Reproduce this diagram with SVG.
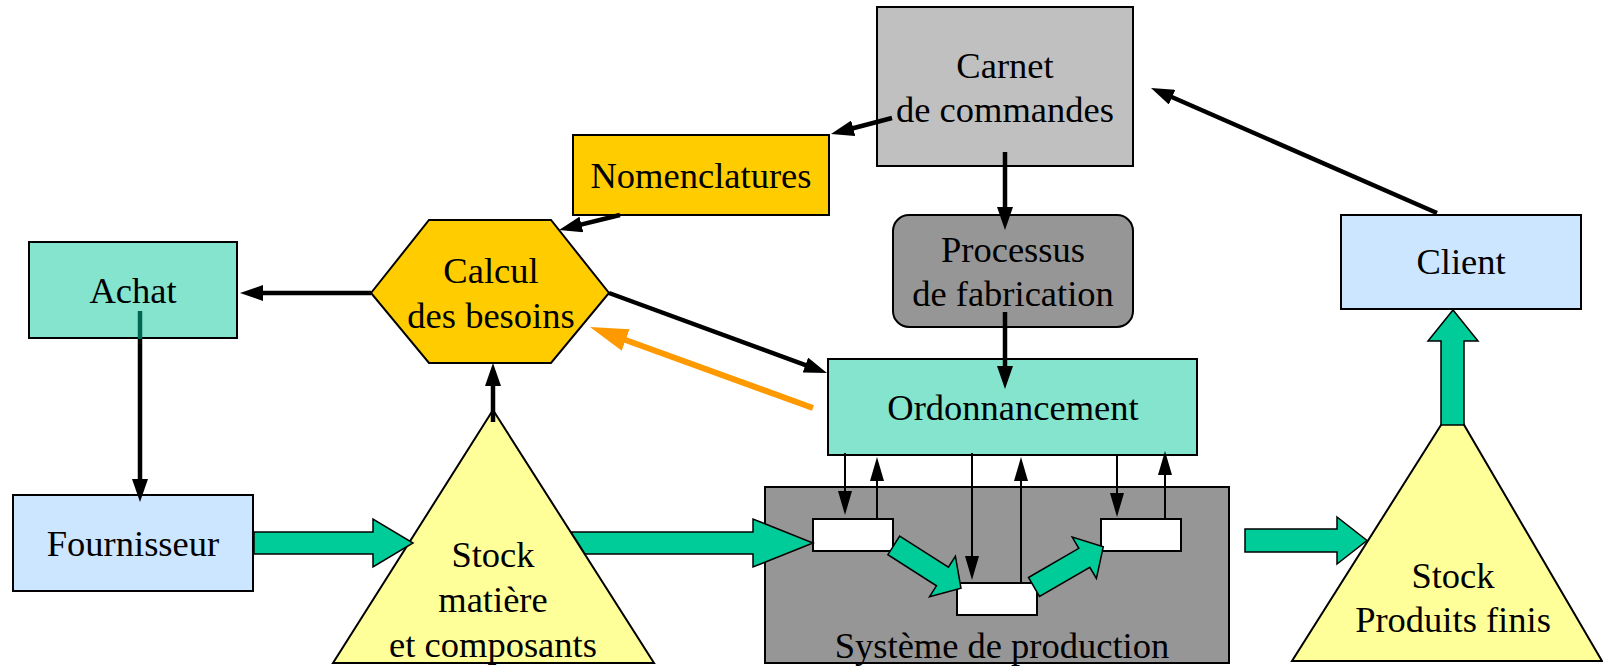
<svg xmlns="http://www.w3.org/2000/svg" width="1603" height="669" viewBox="0 0 1603 669">
<style>
.n{stroke:#000;stroke-width:2}
.t{font-family:"Liberation Serif","Times New Roman",serif;font-size:36.5px;text-anchor:middle;fill:#000}
.k{fill:none;stroke:#000;stroke-width:4.5;marker-end:url(#ah)}
.s{fill:none;stroke:#000;stroke-width:2;marker-end:url(#sh)}
.g{fill:#00cc99;stroke:#000;stroke-width:1.5;stroke-linejoin:miter}
</style>
<defs>
<marker id="ah" markerUnits="userSpaceOnUse" markerWidth="23" markerHeight="16" viewBox="0 0 23 16" refX="11" refY="8" orient="auto"><path d="M0,0 L23,8 L0,16 Z" fill="#000"/></marker>
<marker id="sh" markerUnits="userSpaceOnUse" markerWidth="24" markerHeight="14" viewBox="0 0 24 14" refX="12" refY="7" orient="auto"><path d="M0,0 L24,7 L0,14 Z" fill="#000"/></marker>
<marker id="oh" markerUnits="userSpaceOnUse" markerWidth="38" markerHeight="23" viewBox="0 0 38 23" refX="20" refY="11.5" orient="auto"><path d="M0,0 L38,11.5 L0,23 Z" fill="#ff9900"/></marker>
</defs>
<rect width="1603" height="669" fill="#fff"/>
<g id="systeme">
<rect class="n" x="765" y="487" width="464" height="176" fill="#969696"/>
<text class="t" x="1002" y="658">Système de production</text>
</g>
<g id="poste1"><rect class="n" x="813" y="519" width="80" height="32" fill="#fff"/></g>
<g id="poste2"><rect class="n" x="957" y="583" width="80" height="32" fill="#fff"/></g>
<g id="poste3"><rect class="n" x="1101" y="519" width="80" height="32" fill="#fff"/></g>
<g id="carnet">
<rect class="n" x="877" y="7" width="256" height="159" fill="#c0c0c0"/>
<text class="t" x="1005" y="78">Carnet</text>
<text class="t" x="1005" y="122">de commandes</text>
</g>
<g id="nomenclatures">
<rect class="n" x="573" y="135" width="256" height="80" fill="#ffcc00"/>
<text class="t" x="701" y="188">Nomenclatures</text>
</g>
<g id="processus">
<rect class="n" x="893" y="215" width="240" height="112" rx="16" fill="#969696"/>
<text class="t" x="1013" y="262">Processus</text>
<text class="t" x="1013" y="306">de fabrication</text>
</g>
<g id="calcul">
<polygon class="n" points="371,293 429,220 551,220 609,293 551,363 429,363" fill="#ffcc00"/>
<text class="t" x="491" y="283">Calcul</text>
<text class="t" x="491" y="328">des besoins</text>
</g>
<g id="achat">
<rect class="n" x="29" y="242" width="208" height="96" fill="#84e4ce"/>
<text class="t" x="133" y="303">Achat</text>
</g>
<g id="fournisseur">
<rect class="n" x="13" y="495" width="240" height="96" fill="#cce6ff"/>
<text class="t" x="133" y="556">Fournisseur</text>
</g>
<g id="stock-matiere">
<polygon class="n" points="493,410 333,663 654,663" fill="#ffff99"/>
<text class="t" x="493" y="567">Stock</text>
<text class="t" x="493" y="612">matière</text>
<text class="t" x="493" y="657">et composants</text>
</g>
<g id="ordonnancement">
<rect class="n" x="828" y="359" width="369" height="96" fill="#84e4ce"/>
<text class="t" x="1013" y="420">Ordonnancement</text>
</g>
<g id="client">
<rect class="n" x="1341" y="215" width="240" height="94" fill="#cce6ff"/>
<text class="t" x="1461" y="274">Client</text>
</g>
<g id="stock-produits">
<polygon class="n" points="1453,406 1292,661 1602,661" fill="#ffff99"/>
<text class="t" x="1453" y="588">Stock</text>
<text class="t" x="1453" y="632">Produits finis</text>
</g>
<g id="connectors">
<line class="k" x1="892" y1="118" x2="842.6" y2="131"/>
<line class="k" x1="620" y1="215" x2="570.7" y2="227.1"/>
<line class="k" x1="1005" y1="152" x2="1005" y2="218"/>
<line class="k" x1="1005" y1="312" x2="1005" y2="377"/>
<line class="k" x1="371" y1="293" x2="252" y2="293"/>
<line class="k" x1="609" y1="293" x2="815.7" y2="368.9"/>
<line x1="140" y1="311" x2="140" y2="339" stroke="#006652" stroke-width="4.5"/>
<line class="k" x1="140" y1="339" x2="140" y2="490"/>
<line class="k" x1="493" y1="422" x2="493" y2="375"/>
<line class="k" x1="1437" y1="213" x2="1162" y2="92.8"/>
<line x1="813" y1="408" x2="606.9" y2="333.2" stroke="#ff9900" stroke-width="6" marker-end="url(#oh)"/>
<line class="s" x1="845" y1="453" x2="845" y2="503"/>
<line class="s" x1="877" y1="519" x2="877" y2="469"/>
<line class="s" x1="972" y1="453" x2="972" y2="568"/>
<line class="s" x1="1021" y1="583" x2="1021" y2="469"/>
<line class="s" x1="1117" y1="456" x2="1117" y2="505"/>
<line class="s" x1="1165" y1="519" x2="1165" y2="463"/>
<polygon class="g" points="254,532 373,532 373,519 413,543 373,567 373,554 254,554"/>
<polygon class="g" points="571,532 753,532 753,519 813,543 753,567 753,554 585,554"/>
<polygon class="g" points="1245,529 1337,529 1337,517 1367,540.5 1337,564 1337,552 1245,552"/>
<polygon class="g" points="1441,425 1441,341 1428,341 1453,310 1478,341 1464,341 1464,425"/>
<polygon class="g" points="899.7,536.1 948.4,567.2 955.4,556.3 961,588.3 929.5,596.7 936.5,585.8 887.9,554.7"/>
<polygon class="g" points="1028.5,577.5 1078.8,548.3 1072.2,537.1 1103.3,546.7 1096.4,578.5 1089.8,567.3 1039.5,596.5"/>
</g>
</svg>
